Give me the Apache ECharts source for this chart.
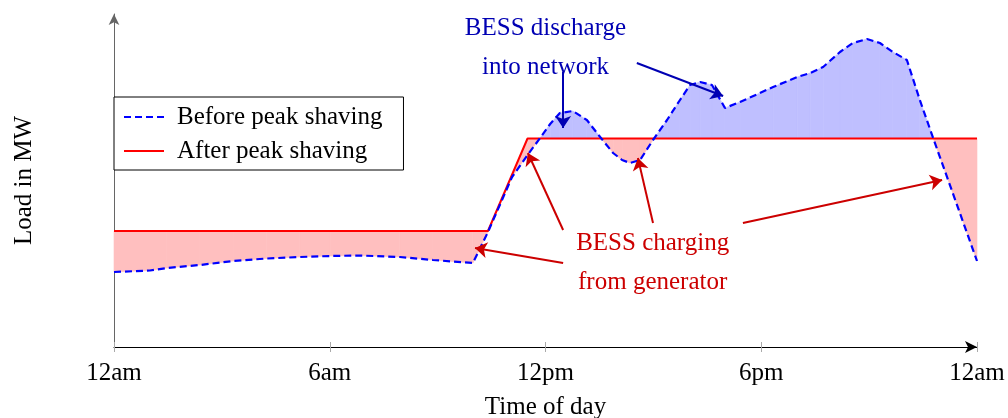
<!DOCTYPE html>
<html><head><meta charset="utf-8">
<script src="https://cdn.jsdelivr.net/npm/echarts@6/dist/echarts.min.js"></script>
<style>html,body{margin:0;padding:0;background:#fff}#c{width:1008px;height:418px}</style>
</head><body><div id="c"></div>
<script>
// ---- data ----
const tickLabels = ['12am', '6am', '12pm', '6pm', '12am'];
const beforeHours = [0, 1.0, 1.47, 2.39, 3.31, 4.25, 5.17, 6.01, 6.84, 7.95, 8.87, 9.98, 10.4, 11.07, 11.5, 11.85, 12.13, 12.4, 12.76, 13.15, 13.52, 13.88, 14.13, 14.35, 14.63, 14.99, 15.38, 15.74, 16.02, 16.3, 16.63, 16.99, 17.41, 18.33, 19.0, 19.36, 19.72, 20.19, 20.55, 20.94, 21.3, 21.66, 22.05, 22.41, 22.78, 24];
const beforeLoad  = [7.5, 7.65, 7.9, 8.2, 8.6, 8.85, 9.0, 9.1, 9.15, 9.0, 8.7, 8.4, 11.5, 17.0, 19.2, 20.9, 22.3, 23.4, 23.6, 22.7, 21.0, 19.4, 18.7, 18.4, 18.7, 20.7, 22.7, 24.7, 26.2, 26.5, 26.2, 23.9, 24.5, 26.0, 27.0, 27.4, 28.0, 29.5, 30.4, 30.8, 30.4, 29.5, 28.7, 24.7, 20.9, 8.6];
const afterHours = [0, 10.4, 11.5, 24];
const afterLoad  = [11.6, 11.6, 20.85, 20.85];
const seriesNames = ['Before peak shaving', 'After peak shaving'];

// ---- derived: band between the two curves ----
function afterAt(h) {
  for (let i = 0; i < afterHours.length - 1; i++) {
    if (h >= afterHours[i] && h <= afterHours[i + 1]) {
      const t = (h - afterHours[i]) / (afterHours[i + 1] - afterHours[i]);
      return afterLoad[i] + t * (afterLoad[i + 1] - afterLoad[i]);
    }
  }
  return afterLoad[afterLoad.length - 1];
}
const bandData = [];
for (let i = 0; i < beforeHours.length - 1; i++) {
  bandData.push([beforeHours[i], beforeHours[i + 1], beforeLoad[i], beforeLoad[i + 1],
                 afterAt(beforeHours[i]), afterAt(beforeHours[i + 1])]);
}
const PINK = '#ffbfbf', LAV = '#bfbfff';

function renderBand(params, api) {
  const h0 = api.value(0), h1 = api.value(1), b0 = api.value(2), b1 = api.value(3), r0 = api.value(4), r1 = api.value(5);
  const d0 = b0 - r0, d1 = b1 - r1;
  const polys = [];
  if (d0 * d1 >= 0) {
    polys.push({ pts: [[h0, b0], [h1, b1], [h1, r1], [h0, r0]], pos: (d0 + d1) > 0 });
  } else {
    const t = d0 / (d0 - d1);
    const hc = h0 + t * (h1 - h0), yc = b0 + t * (b1 - b0);
    polys.push({ pts: [[h0, b0], [hc, yc], [h0, r0]], pos: d0 > 0 });
    polys.push({ pts: [[hc, yc], [h1, b1], [h1, r1]], pos: d1 > 0 });
  }
  return {
    type: 'group',
    children: polys.map(p => ({
      type: 'polygon',
      shape: { points: p.pts.map(q => api.coord(q)) },
      style: { fill: p.pos ? LAV : PINK, stroke: p.pos ? LAV : PINK, lineWidth: 0.6 }
    }))
  };
}

const FONT = 'Liberation Serif';
const RED_T = '#cc0000', BLUE_T = '#0000b3';

const chart = echarts.init(document.getElementById('c'), null, { renderer: 'canvas' });
chart.setOption({
  animation: false,
  backgroundColor: '#fff',
  grid: { left: 114, right: 31, top: 14, bottom: 71, outerBoundsMode: 'none', containLabel: false },
  legend: {
    data: seriesNames,
    orient: 'vertical',
    left: 114, top: 97,
    padding: [5, 21, 4, 9],
    itemWidth: 40, itemHeight: 14, itemGap: 4,
    itemStyle: { opacity: 0 },
    borderColor: '#000', borderWidth: 1, backgroundColor: '#fff',
    textStyle: { fontFamily: FONT, fontSize: 25, color: '#000', lineHeight: 30, padding: [0, 0, 0, 8] }
  },
  xAxis: [{
    type: 'value', min: 0, max: 24, interval: 6,
    axisLine: { show: true, symbol: ['none', 'arrow'], symbolSize: [9, 12], lineStyle: { color: '#000', width: 1 } },
    axisTick: { show: true, length: 5, lineStyle: { color: '#aaa' } },
    axisLabel: { formatter: v => tickLabels[Math.round(v / 6)], fontFamily: FONT, fontSize: 25, color: '#000', margin: 14 },
    splitLine: { show: false },
    name: 'Time of day', nameLocation: 'middle', nameGap: 48,
    nameTextStyle: { fontFamily: FONT, fontSize: 25, color: '#000' }
  }, {
    type: 'value', min: 0, max: 24, interval: 6, position: 'bottom',
    axisLine: { show: false },
    axisTick: { show: true, inside: true, length: 5, lineStyle: { color: '#aaa' } },
    axisLabel: { show: false }, splitLine: { show: false }
  }],
  yAxis: {
    type: 'value', min: 0, max: 33.3,
    axisLine: { show: true, symbol: ['none', 'arrow'], symbolSize: [8, 11], lineStyle: { color: '#666', width: 1 } },
    axisTick: { show: false }, axisLabel: { show: false }, splitLine: { show: false },
    name: 'Load in MW', nameLocation: 'middle', nameGap: 77, nameRotate: 90,
    nameTextStyle: { fontFamily: FONT, fontSize: 25, color: '#000' }
  },
  series: [
    { name: 'band', type: 'custom', renderItem: renderBand, data: bandData, silent: true, z: 1,
      encode: { x: [0, 1], y: [2, 3, 4, 5] } },
    { name: seriesNames[1], type: 'line', data: afterHours.map((h, i) => [h, afterLoad[i]]), symbol: 'none',
      color: '#ff0000', lineStyle: { color: '#ff0000', width: 2 }, z: 3,
      markLine: {
        silent: true, symbol: ['none', 'arrow'], symbolSize: 12,
        label: { show: false },
        lineStyle: { color: RED_T, width: 2, type: 'solid' },
        data: [
          [{ coord: [12.49, 8.4] }, { coord: [10.04, 9.9] }],
          [{ coord: [12.49, 11.7] }, { coord: [11.51, 19.4] }],
          [{ coord: [14.99, 12.4] }, { coord: [14.57, 18.9] }],
          [{ coord: [17.49, 12.4] }, { coord: [23.03, 16.7] }]
        ]
      },
      markPoint: {
        silent: true, symbol: 'circle', symbolSize: 0,
        label: { show: true, position: 'inside', fontFamily: FONT, fontSize: 25, color: RED_T, lineHeight: 39 },
        data: [{ coord: [14.98, 8.45], label: { formatter: 'BESS charging\nfrom generator' } }]
      }
    },
    { name: seriesNames[0], type: 'line', data: beforeHours.map((h, i) => [h, beforeLoad[i]]), symbol: 'none',
      color: '#0000ff', lineStyle: { color: '#0000ff', width: 2.2, type: [7, 4] }, z: 4,
      markLine: {
        silent: true, symbol: ['none', 'arrow'], symbolSize: 12,
        label: { show: false },
        lineStyle: { color: BLUE_T, width: 2, type: 'solid' },
        data: [
          [{ coord: [12.49, 27.5] }, { coord: [12.49, 21.9] }],
          [{ coord: [14.54, 28.4] }, { coord: [16.94, 25.1] }]
        ]
      },
      markPoint: {
        silent: true, symbol: 'circle', symbolSize: 0,
        label: { show: true, position: 'inside', fontFamily: FONT, fontSize: 25, color: BLUE_T, lineHeight: 39 },
        data: [{ coord: [12.0, 29.95], label: { formatter: 'BESS discharge\ninto network' } }]
      }
    }
  ]
});
</script></body></html>
